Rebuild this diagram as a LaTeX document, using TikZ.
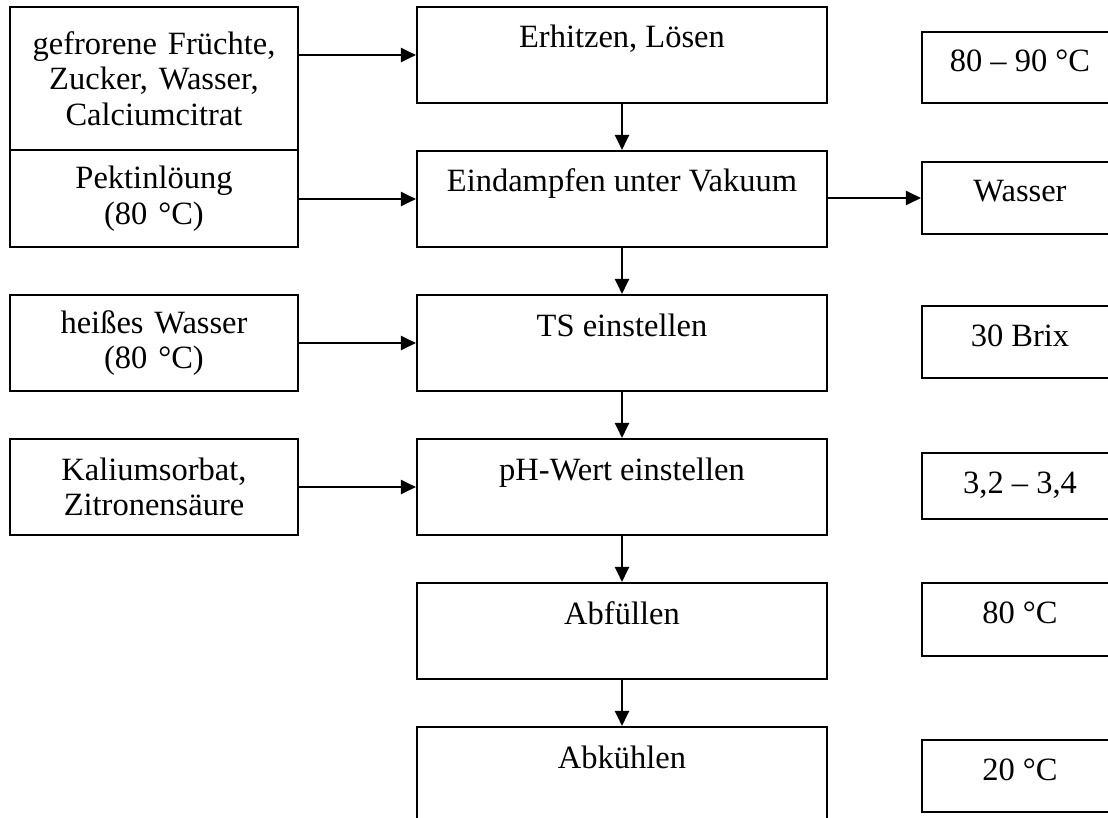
\documentclass[tikz,border=0pt]{standalone}
\usepackage{fontspec}
\setmainfont{Liberation Serif}
\usetikzlibrary{arrows.meta}

\begin{document}
\begin{tikzpicture}[x=1pt,y=-1pt,
  every node/.style={font=\fontsize{32.5}{35.5}\selectfont, inner sep=0pt},
  box/.style={draw, line width=2.1pt},
  % input boxes on the left: text centred
  inbox/.style={box, minimum width=288pt, minimum height=#1, align=center, text width=284pt},
  % process steps in the middle: text near the top edge
  procbox/.style={box, minimum width=410pt, text height=41pt, text depth=55pt},
  % parameter boxes on the right
  parbox/.style={box, minimum width=196pt, text height=40pt, text depth=#1},
  parbox/.default=32pt,
  flow/.style={line width=2.1pt, -{Triangle[length=15pt,width=14pt]}}
]
\useasboundingbox (0,0) rectangle (1108,818);
\clip (0,0) rectangle (1108,818);

% inputs
\node[inbox=143pt] (in1) at (154,78.5) {gefrorene Früchte,\\Zucker, Wasser,\\Calciumcitrat};
\node[inbox=97pt]  (in2) at (154,198.5) {Pektinlöung\\(80 °C)};
\node[inbox=96pt]  (in3) at (154,343) {heißes Wasser\\(80 °C)};
\node[inbox=96pt]  (in4) at (154,487) {Kaliumsorbat,\\Zitronensäure};

% process steps
\node[procbox] (p1) at (622,55)  {Erhitzen, Lösen};
\node[procbox] (p2) at (622,199) {Eindampfen unter Vakuum};
\node[procbox] (p3) at (622,343) {TS einstellen};
\node[procbox] (p4) at (622,487) {pH-Wert einstellen};
\node[procbox] (p5) at (622,631) {Abfüllen};
\node[procbox] (p6) at (622,775) {Abkühlen};

% parameters
\node[parbox=31pt] (r1) at (1020,67.5) {80 – 90 °C};
\node[parbox]      (r2) at (1020,198)  {Wasser};
\node[parbox]      (r3) at (1020,342)  {30 Brix};
\node[parbox=26pt] (r4) at (1020,486)  {3,2 – 3,4};
\node[parbox=33pt] (r5) at (1020,619.5){80 °C};
\node[parbox]      (r6) at (1020,776)  {20 °C};

% feeds into the process
\draw[flow] (in1.east |- p1) -- (p1.west);
\draw[flow] (in2.east |- p2) -- (p2.west);
\draw[flow] (in3.east |- p3) -- (p3.west);
\draw[flow] (in4.east |- p4) -- (p4.west);

% main line
\draw[flow] (p1.south) -- (p2.north);
\draw[flow] (p2.south) -- (p3.north);
\draw[flow] (p3.south) -- (p4.north);
\draw[flow] (p4.south) -- (p5.north);
\draw[flow] (p5.south) -- (p6.north);

% evaporated water
\draw[flow] (p2.east |- r2) -- (r2.west);
\end{tikzpicture}
\end{document}
